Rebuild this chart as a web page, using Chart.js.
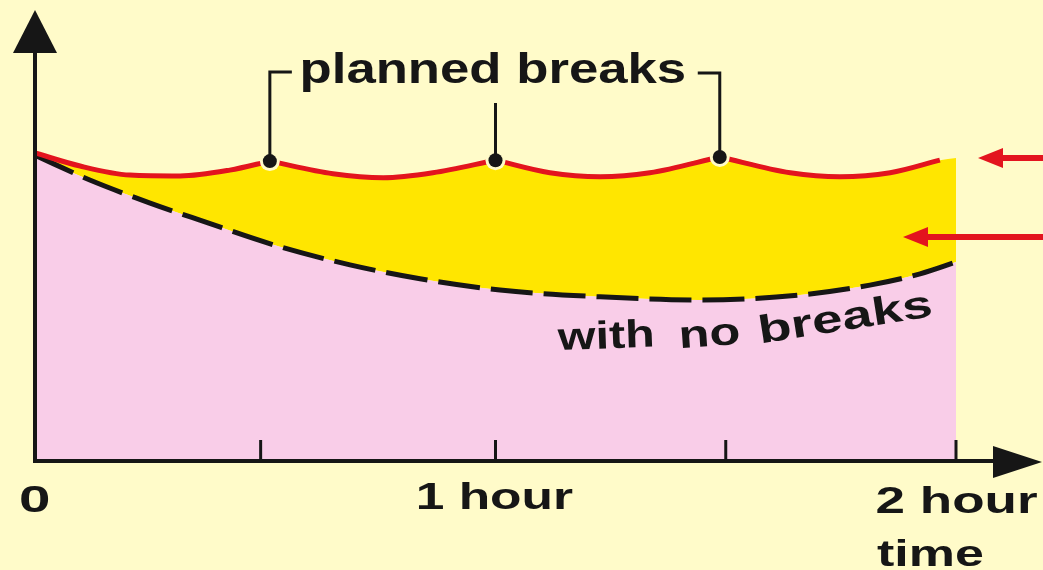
<!DOCTYPE html>
<html>
<head>
<meta charset="utf-8">
<script src="https://cdn.jsdelivr.net/npm/chart.js@4.4.1/dist/chart.umd.min.js"></script>
<style>
  html, body { margin: 0; padding: 0; background: #FFFBC9; }
  #wrap { width: 1043px; height: 570px; }
</style>
</head>
<body>
<div id="wrap"><canvas id="c" width="1043" height="570"></canvas></div>
<script>
// ---- data (time in hours, performance in arbitrary units 0-100) ----
const redTimes1 = [0, 0.098, 0.206, 0.315, 0.423, 0.51];
const redValues1 = [68.3, 65.4, 63.4, 63.2, 64.5, 66.5];
const redTimes2 = [0.51, 0.647, 0.756, 0.864, 1.0];
const redValues2 = [66.5, 63.7, 62.8, 63.9, 66.7];
const redTimes3 = [1.0, 1.118, 1.227, 1.335, 1.487];
const redValues3 = [66.7, 63.9, 63.0, 63.9, 67.4];
const redTimes4 = [1.487, 1.64, 1.748, 1.857, 1.965];
const redValues4 = [67.4, 63.9, 63.0, 63.9, 66.7];

const noBreakTimes = [0, 0.119, 0.25, 0.358, 0.532, 0.684, 0.836, 1.01, 1.227, 1.444, 1.661, 1.813, 1.922, 2.0];
const noBreakValues = [67.8, 62.3, 57.2, 53.4, 47.5, 43.5, 40.4, 37.9, 36.4, 35.7, 36.8, 39.0, 41.5, 44.1];

const breakTimes = [0.51, 1.0, 1.487];
const breakValues = [66.5, 66.7, 67.4];

const yellowEndTime = 2.0;
const yellowEndValue = 67.2;

const tickTimes = [0.49, 1, 1.5, 2];
const labelTimes = [0, 1, 2];
const tickLabels = ['0', '1 hour', '2 hour'];
const axisTitle = 'time';
const breaksLabel = 'planned breaks';
const noBreaksWords = ['with', 'no', 'breaks'];

// ---- helpers ----
const pts = (xs, ys) => xs.map((x, i) => ({ x: x, y: ys[i] }));

const BG = '#FFFBC9';
const PINK = '#F9CDE8';
const YELLOW = '#FFE600';
const RED = '#E3141E';
const INK = '#161616';

const yellowPts = pts(redTimes1, redValues1)
  .concat(pts(redTimes2, redValues2).slice(1))
  .concat(pts(redTimes3, redValues3).slice(1))
  .concat(pts(redTimes4, redValues4).slice(1))
  .concat([{ x: yellowEndTime, y: yellowEndValue }]);

function redSeg(xs, ys) {
  return {
    data: pts(xs, ys), borderColor: RED, borderWidth: 5, pointRadius: 0,
    cubicInterpolationMode: 'monotone', fill: false, borderCapStyle: 'butt'
  };
}

function inkText(ctx, text, font, left, baseline, width, angleDeg) {
  ctx.save();
  ctx.font = font;
  ctx.textAlign = 'left';
  ctx.textBaseline = 'alphabetic';
  const m = ctx.measureText(text);
  const ink = m.actualBoundingBoxLeft + m.actualBoundingBoxRight;
  const sx = width / ink;
  ctx.translate(left, baseline);
  if (angleDeg) ctx.rotate(angleDeg * Math.PI / 180);
  ctx.scale(sx, 1);
  ctx.fillStyle = INK;
  ctx.fillText(text, m.actualBoundingBoxLeft, 0);
  ctx.restore();
}

const bgPlugin = {
  id: 'bg',
  beforeDraw(chart) {
    const ctx = chart.ctx;
    ctx.save();
    ctx.fillStyle = BG;
    ctx.fillRect(0, 0, chart.width, chart.height);
    ctx.restore();
  }
};

const overlay = {
  id: 'overlay',
  afterDatasetsDraw(chart) {
    const ctx = chart.ctx;
    const xs = chart.scales.x, ys = chart.scales.y;
    const x0 = xs.getPixelForValue(0);
    const y0 = ys.getPixelForValue(0);
    ctx.save();
    ctx.strokeStyle = INK;
    ctx.fillStyle = INK;
    ctx.lineCap = 'butt';

    // y axis
    ctx.lineWidth = 4;
    ctx.beginPath(); ctx.moveTo(x0, y0 + 2); ctx.lineTo(x0, 48); ctx.stroke();
    ctx.beginPath(); ctx.moveTo(x0, 10); ctx.lineTo(x0 + 22, 53); ctx.lineTo(x0 - 22, 53); ctx.closePath(); ctx.fill();
    // x axis
    ctx.beginPath(); ctx.moveTo(x0 - 2, y0); ctx.lineTo(1000, y0); ctx.stroke();
    ctx.beginPath(); ctx.moveTo(1042, y0 + 1); ctx.lineTo(993, y0 - 15); ctx.lineTo(993, y0 + 17); ctx.closePath(); ctx.fill();

    // ticks
    ctx.lineWidth = 3;
    tickTimes.forEach(t => {
      const px = xs.getPixelForValue(t);
      ctx.beginPath(); ctx.moveTo(px, y0 - 21); ctx.lineTo(px, y0); ctx.stroke();
    });

    // tick labels
    const tf = 'bold 37px "Liberation Sans", Arial, sans-serif';
    const labelWidths = [29, 154, 160];
    const baselines = [512, 509, 513];
    labelTimes.forEach((t, i) => {
      const px = xs.getPixelForValue(t);
      const w = labelWidths[i];
      const left = i === 2 ? px - 79 : px - w / 2;
      inkText(ctx, tickLabels[i], tf, left, baselines[i], w, 0);
    });
    inkText(ctx, axisTitle, tf, xs.getPixelForValue(2) - 79, 566, 106, 0);

    // planned breaks bracket
    const meta = chart.getDatasetMeta(0);
    const p = meta.data.map(e => ({ x: e.x, y: e.y }));
    ctx.lineWidth = 3;
    ctx.beginPath();
    ctx.moveTo(p[0].x + 22, 72); ctx.lineTo(p[0].x, 72); ctx.lineTo(p[0].x, p[0].y);
    ctx.stroke();
    ctx.beginPath(); ctx.moveTo(p[1].x, 103); ctx.lineTo(p[1].x, p[1].y); ctx.stroke();
    ctx.beginPath();
    ctx.moveTo(p[2].x - 22, 73); ctx.lineTo(p[2].x, 73); ctx.lineTo(p[2].x, p[2].y);
    ctx.stroke();
    inkText(ctx, breaksLabel, 'bold 43px "Liberation Sans", Arial, sans-serif', 302, 83, 383, 0);

    // with no breaks (curved label)
    const nf = 'bold 39px "Liberation Sans", Arial, sans-serif';
    inkText(ctx, noBreaksWords[0], nf, 557, 350, 96, -2);
    inkText(ctx, noBreaksWords[1], nf, 682, 348, 58, -4);
    inkText(ctx, noBreaksWords[2], nf, 763, 343, 172, -9);

    // re-draw break dots on top of bracket lines
    ctx.fillStyle = INK;
    p.forEach(q => { ctx.beginPath(); ctx.arc(q.x, q.y, 7, 0, Math.PI * 2); ctx.fill(); });

    // red pointer arrows
    ctx.fillStyle = RED; ctx.strokeStyle = RED; ctx.lineWidth = 6;
    const arrows = [[978, 158, 1003], [903, 237, 928]];
    arrows.forEach(a => {
      ctx.beginPath(); ctx.moveTo(a[2] - 2, a[1]); ctx.lineTo(1043, a[1]); ctx.stroke();
      ctx.beginPath(); ctx.moveTo(a[0], a[1]); ctx.lineTo(a[2], a[1] - 10); ctx.lineTo(a[2], a[1] + 10); ctx.closePath(); ctx.fill();
    });
    ctx.restore();
  }
};

new Chart(document.getElementById('c'), {
  type: 'line',
  data: {
    datasets: [
      { data: pts(breakTimes, breakValues), showLine: false, pointRadius: 10, pointBackgroundColor: BG,
        pointBorderWidth: 0, fill: false },
      redSeg(redTimes1, redValues1),
      redSeg(redTimes2, redValues2),
      redSeg(redTimes3, redValues3),
      redSeg(redTimes4, redValues4),
      { data: pts(noBreakTimes, noBreakValues), borderColor: INK, borderWidth: 5, borderDash: [42, 11],
        pointRadius: 0, cubicInterpolationMode: 'monotone', fill: 'origin', backgroundColor: PINK },
      { data: yellowPts, borderWidth: 0, borderColor: 'rgba(0,0,0,0)', pointRadius: 0,
        cubicInterpolationMode: 'monotone', fill: { target: 5 }, backgroundColor: YELLOW }
    ]
  },
  options: {
    responsive: false,
    animation: false,
    devicePixelRatio: 1,
    layout: { padding: { left: 35, right: 87, top: 10, bottom: 109 } },
    scales: {
      x: { type: 'linear', min: 0, max: 2, display: false },
      y: { min: 0, max: 100, display: false }
    },
    plugins: { legend: { display: false }, tooltip: { enabled: false } },
    elements: { line: { clip: false } }
  },
  plugins: [bgPlugin, overlay]
});
</script>
</body>
</html>
